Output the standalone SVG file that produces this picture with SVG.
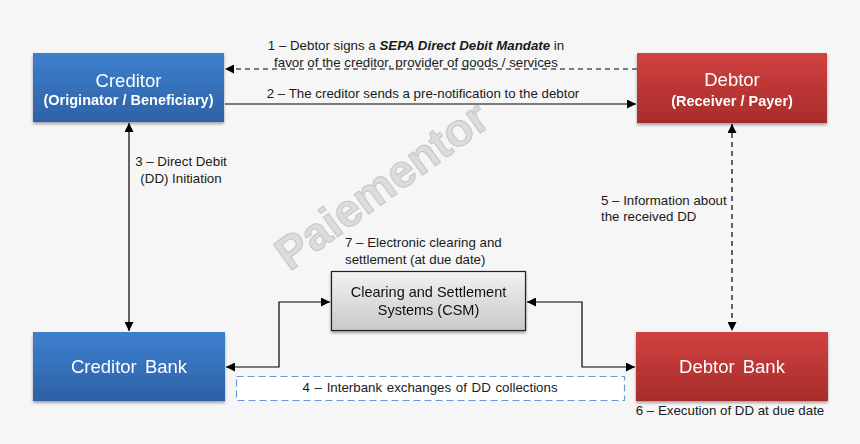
<svg xmlns="http://www.w3.org/2000/svg" width="860" height="444" viewBox="0 0 860 444">
<defs>
<linearGradient id="gBlue" x1="0" y1="0" x2="0" y2="1"><stop offset="0" stop-color="#3e80cf"/><stop offset="1" stop-color="#2d61a6"/></linearGradient>
<linearGradient id="gRed" x1="0" y1="0" x2="0" y2="1"><stop offset="0" stop-color="#d24140"/><stop offset="1" stop-color="#a62c2b"/></linearGradient>
<linearGradient id="gGray" x1="0" y1="0" x2="0" y2="1"><stop offset="0" stop-color="#f2f2f2"/><stop offset="1" stop-color="#c9c9c9"/></linearGradient>
<filter id="sh" x="-10%" y="-10%" width="120%" height="130%"><feGaussianBlur in="SourceAlpha" stdDeviation="1.5"/><feOffset dx="0" dy="2" result="b"/><feComponentTransfer><feFuncA type="linear" slope="0.35"/></feComponentTransfer><feMerge><feMergeNode/><feMergeNode in="SourceGraphic"/></feMerge></filter>
<marker id="ah" viewBox="0 0 10 10" refX="10" refY="5" markerWidth="9" markerHeight="9" markerUnits="userSpaceOnUse" orient="auto-start-reverse"><path d="M0,0 L10,5 L0,10 z" fill="#000"/></marker>
</defs>
<style>
text{font-family:"Liberation Sans",Arial,sans-serif;}
.t{font-size:13.3px;fill:#1a1a1a;}
.w{fill:#fff;text-anchor:middle;}
.title{font-size:18.5px;}
.sub{font-size:14.5px;font-weight:bold;}
.ln{fill:none;stroke:#000;stroke-width:1.2;}
.dash{stroke-dasharray:5,4;}
</style>
<rect x="0" y="0" width="860" height="444" fill="#f6f6f6"/>
<text x="385" y="200" transform="rotate(-36 385 190)" text-anchor="middle" font-size="46" font-weight="bold" fill="#dcdcdc" stroke="#c6c6c6" stroke-width="1">Paiementor</text>
<g id="connectors">
<line class="ln dash" x1="637" y1="69" x2="225" y2="69" marker-end="url(#ah)"/>
<line class="ln" x1="225" y1="104" x2="636" y2="104" marker-end="url(#ah)"/>
<line class="ln" x1="129" y1="123" x2="129" y2="331" marker-start="url(#ah)" marker-end="url(#ah)"/>
<line class="ln dash" x1="732" y1="124" x2="732" y2="331" marker-start="url(#ah)" marker-end="url(#ah)"/>
<polyline class="ln" points="226,367 279,367 279,302 330,302" marker-start="url(#ah)" marker-end="url(#ah)"/>
<polyline class="ln" points="527,302 582,302 582,367 635,367" marker-start="url(#ah)" marker-end="url(#ah)"/>
<text class="t" x="416" y="50" text-anchor="middle">1 – Debtor signs a <tspan font-weight="bold" font-style="italic">SEPA Direct Debit Mandate</tspan> in</text>
<text class="t" x="416" y="67" text-anchor="middle">favor of the creditor, provider of goods / services</text>
<text class="t" x="423" y="98" text-anchor="middle">2 – The creditor sends a pre-notification to the debtor</text>
<text class="t" x="181" y="166" text-anchor="middle">3 – Direct Debit</text>
<text class="t" x="181" y="183" text-anchor="middle">(DD) Initiation</text>
<text class="t" x="601" y="205">5 – Information about</text>
<text class="t" x="601" y="221">the received DD</text>
<text class="t" x="345" y="247">7 – Electronic clearing and</text>
<text class="t" x="345" y="264">settlement  (at due date)</text>
<text class="t" x="730" y="415" text-anchor="middle">6 – Execution of DD at due date</text>
</g>
<g id="creditor" filter="url(#sh)">
<rect x="33" y="53" width="191" height="69" fill="url(#gBlue)"/>
<text class="w title" x="128.5" y="87">Creditor</text>
<text class="w sub" x="128.5" y="105">(Originator / Beneficiary)</text>
</g>
<g id="debtor" filter="url(#sh)">
<rect x="637" y="53" width="190" height="70" fill="url(#gRed)"/>
<text class="w title" x="732" y="86">Debtor</text>
<text class="w sub" x="732" y="106">(Receiver / Payer)</text>
</g>
<g id="creditor-bank" filter="url(#sh)">
<rect x="33" y="332" width="192" height="69" fill="url(#gBlue)"/>
<text class="w title" x="129" y="373" word-spacing="3">Creditor Bank</text>
</g>
<g id="debtor-bank" filter="url(#sh)">
<rect x="636" y="332" width="192" height="69" fill="url(#gRed)"/>
<text class="w title" x="732" y="373" word-spacing="3">Debtor Bank</text>
</g>
<g id="csm" filter="url(#sh)">
<rect x="331.5" y="271.5" width="194" height="59" fill="url(#gGray)" stroke="#222" stroke-width="1.2"/>
<text x="428.5" y="297" text-anchor="middle" font-size="14.5" fill="#111">Clearing and Settlement</text>
<text x="428.5" y="315" text-anchor="middle" font-size="14.5" fill="#111">Systems (CSM)</text>
</g>
<g id="interbank">
<rect x="236.5" y="376.5" width="388" height="24" fill="#fff" stroke="#6a98d8" stroke-width="1.2" stroke-dasharray="7,4"/>
<text class="t" x="430" y="392" text-anchor="middle" word-spacing="1">4 – Interbank exchanges of DD collections</text>
</g>
</svg>
